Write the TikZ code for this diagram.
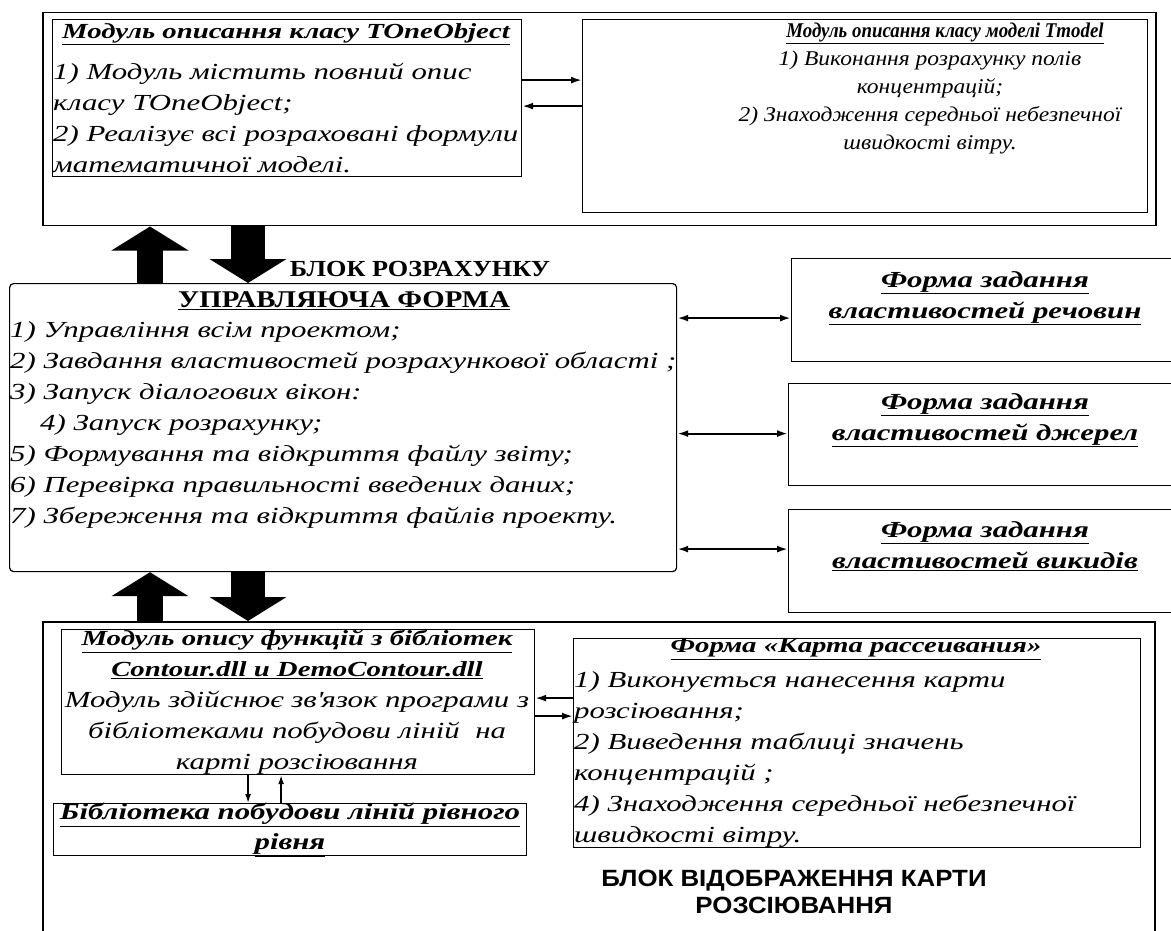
\documentclass[tikz,border=0pt]{standalone}
\usepackage{fontspec}
\setmainfont[FakeStretch=1.34]{Liberation Serif}
\newfontfamily\tmodelfont[FakeStretch=1.12]{Liberation Serif}
\newfontfamily\tmodelhead[FakeStretch=0.9]{Liberation Serif}
\newfontfamily\blockfont[FakeStretch=1.14]{Liberation Serif}
\newfontfamily\ctrlfont[FakeStretch=1.2]{Liberation Serif}
\newfontfamily\mapfont[FakeStretch=1.1]{Liberation Sans}
\usetikzlibrary{arrows.meta,positioning}
\newcommand{\uln}[1]{\underline{#1}}

\begin{document}
\begin{tikzpicture}[x=1pt,y=-1pt,
        frame/.style={draw,line width=1.2pt,inner sep=0pt,anchor=north west},
        outer/.style={frame,line width=1.5pt},
        body/.style={inner sep=0pt,align=left,anchor=north west,font=\fontsize{23}{31}\selectfont\itshape},
        head/.style={inner sep=0pt,align=center,font=\fontsize{21.5}{30}\selectfont\bfseries\itshape},
        formhead/.style={inner sep=0pt,align=center,font=\fontsize{23}{31}\selectfont\bfseries\itshape},
        tmhead/.style={inner sep=0pt,align=center,font=\tmodelhead\fontsize{21}{28}\selectfont\bfseries\itshape},
        tmbody/.style={inner sep=0pt,align=center,anchor=north,font=\tmodelfont\fontsize{21}{28}\selectfont\itshape},
        link/.style={line width=2pt,-{Latex[length=11pt,width=7pt]}},
        thinlink/.style={line width=1.5pt,-{Latex[length=9pt,width=6pt]}},
        both/.style={line width=2.2pt,{Latex[length=11pt,width=7pt]}-{Latex[length=11pt,width=7pt]}},
        bigarrow/.style={line width=#1,-{Triangle[length=24pt,width=76pt]}},
    ]
    \useasboundingbox (0,0) rectangle (1171,931);

    % block of calculation
    \node[outer,minimum width=1113pt,minimum height=213pt] (calc) at (42,12) {};
    \node[frame,minimum width=469pt,minimum height=157pt] (tone) at (52,19) {};
    \node[frame,minimum width=565pt,minimum height=193pt] (tmod) at (582,19) {};

    \node[head] (tonehead) at (286,34) {\uln{Модуль описання класу TOneObject}};
    \node[body] (tonetext) at (53,63) {1) Модуль містить повний опис\\класу TOneObject;\\2) Реалізує всі розраховані формули\\математичної моделі.};

    \node[tmhead] (tmodhead) at (945,33) {\uln{Модуль описання класу моделі Tmodel}};
    \node[tmbody] (tmodtext) at (930,51) {1) Виконання розрахунку полів\\концентрацій;\\2) Знаходження середньої небезпечної\\швидкості вітру.};

    \draw[link] ([yshift=18pt]tone.east) -- ([yshift=18pt]tone.east -| tmod.west);
    \draw[link] ([yshift=-8pt]tone.east -| tmod.west) -- ([yshift=-8pt]tone.east);

    % control form
    \node[frame,rounded corners=4pt,minimum width=667pt,minimum height=288pt] (ctrl) at (9,283) {};
    \node[inner sep=0pt,font=\ctrlfont\fontsize{24}{28}\selectfont\bfseries] (ctrlhead) at (344,301) {\uln{УПРАВЛЯЮЧА ФОРМА}};
    \node[body] (ctrltext) at (10,321) {1) Управління всім проектом;\\2) Завдання властивостей розрахункової області ;\\3) Запуск діалогових вікон:\\\hspace*{30pt}4) Запуск розрахунку;\\5) Формування та відкриття файлу звіту;\\6) Перевірка правильності введених даних;\\7) Збереження та відкриття файлів проекту.};
    \node[inner sep=0pt,font=\blockfont\fontsize{23}{26}\selectfont\bfseries] (calclabel) at (420,269) {БЛОК РОЗРАХУНКУ};

    \coordinate (upx) at (150,0);
    \coordinate (downx) at (248,0);
    \draw[bigarrow=26pt] (upx |- ctrl.north) -- (upx |- calc.south);
    \draw[bigarrow=34pt] (downx |- calc.south) -- (downx |- ctrl.north);

    % property forms
    \node[frame,minimum width=390pt,minimum height=103pt] (subst) at (791,258) {};
    \node[frame,minimum width=393pt,minimum height=102pt] (source) at (788,383) {};
    \node[frame,minimum width=393pt,minimum height=103pt] (emiss) at (788,509) {};
    \node[formhead] (substtext) at (985,298) {\uln{Форма задання}\\\uln{властивостей речовин}};
    \node[formhead] (sourcetext) at (985,420) {\uln{Форма задання}\\\uln{властивостей джерел}};
    \node[formhead] (emisstext) at (985,546) {\uln{Форма задання}\\\uln{властивостей викидів}};

    \draw[both] ([yshift=-8pt]subst.west -| ctrl.east) -- ([yshift=-8pt]subst.west);
    \draw[both] ([yshift=1pt]source.west -| ctrl.east) -- ([yshift=1pt]source.west);
    \draw[both] ([yshift=12pt]emiss.west -| ctrl.east) -- ([yshift=12pt]emiss.west);

    % block of the map
    \node[outer,minimum width=1112pt,minimum height=330pt] (mapblk) at (42,621) {};
    \draw[bigarrow=26pt] (upx |- mapblk.north) -- (upx |- ctrl.south);
    \draw[bigarrow=34pt] (downx |- ctrl.south) -- (downx |- mapblk.north);

    \node[frame,minimum width=473pt,minimum height=145pt] (contour) at (61,629) {};
    \node[frame,minimum width=473pt,minimum height=52pt] (lib) at (53,803) {};
    \node[frame,minimum width=567pt,minimum height=209pt] (karta) at (573,638) {};

    \node[head,font=\fontsize{23}{31}\selectfont\itshape,anchor=north] (contourtext) at (297,630) {{\fontsize{21.5}{31}\selectfont\bfseries\uln{Модуль опису функцій з бібліотек}}\\{\fontsize{21.5}{31}\selectfont\bfseries\uln{Contour.dll и DemoContour.dll}}\\Модуль здійснює зв\textquotesingle язок програми з\\бібліотеками побудови ліній~~на\\карті розсіювання};
    \node[head,font=\fontsize{23}{30}\selectfont\bfseries\itshape] (libtext) at (290,830) {\uln{Бібліотека побудови ліній рівного}\\\uln{рівня}};

    \node[head] (kartahead) at (856,649) {\uln{Форма «Карта рассеивания»}};
    \node[body] (kartatext) at (574,671) {1) Виконується нанесення карти\\розсіювання;\\2) Виведення таблиці значень\\концентрацій ;\\4) Знаходження середньої небезпечної\\швидкості вітру.};

    \draw[link] ([yshift=45pt]karta.west) -- ([yshift=45pt]karta.west -| contour.east);
    \draw[link] ([yshift=27pt]karta.west -| contour.east) -- ([yshift=27pt]karta.west);
    \draw[thinlink] ([xshift=-50pt]contour.south) -- ([xshift=-50pt]contour.south |- lib.north);
    \draw[thinlink] ([xshift=-17pt]contour.south |- lib.north) -- ([xshift=-17pt]contour.south);

    \node[inner sep=0pt,align=center,font=\mapfont\fontsize{23.5}{27}\selectfont\bfseries] (maplabel) at (794,892) {БЛОК ВІДОБРАЖЕННЯ КАРТИ\\РОЗСІЮВАННЯ};
\end{tikzpicture}
\end{document}
